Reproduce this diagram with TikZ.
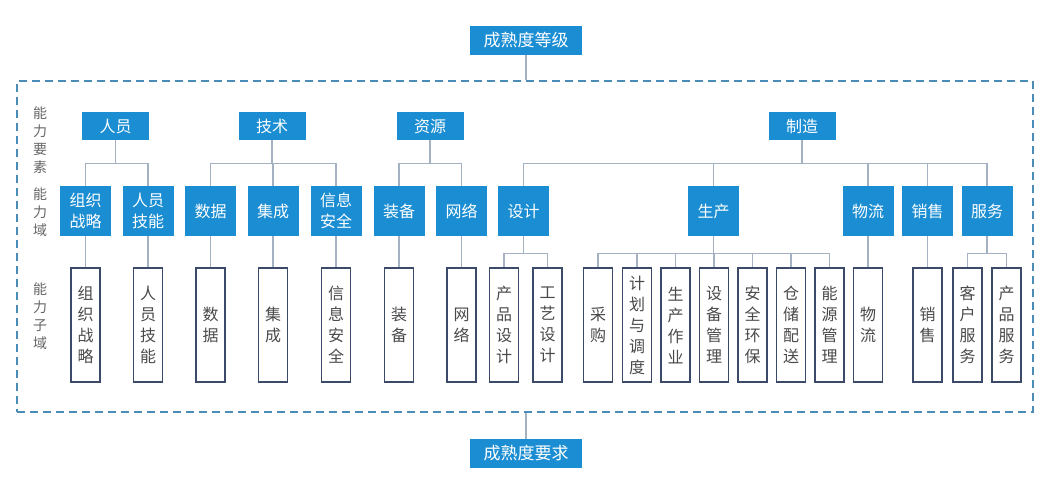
\documentclass[tikz,border=0pt]{standalone}
\usepackage{fontspec}
\usepackage{tikz}
\newfontfamily\cjk{Noto Sans CJK SC}
\definecolor{BoxBlue}{HTML}{1A8DD3}
\definecolor{LinkGray}{HTML}{A3B1C2}
\definecolor{SubNavy}{HTML}{3B4A68}
\definecolor{TextGray}{HTML}{4A4A4A}
\definecolor{LabelGray}{HTML}{666666}
\definecolor{FrameBlue}{HTML}{4A8DB8}

\begin{document}
\begin{tikzpicture}[x=1pt, y=-1pt,
  gradebox/.style={fill=BoxBlue, text=white, minimum width=112pt, minimum height=29pt,
                   inner sep=0pt, font=\cjk\fontsize{17}{20}\selectfont},
  elembox/.style={fill=BoxBlue, text=white, minimum width=67pt, minimum height=28pt,
                  inner sep=0pt, font=\cjk\fontsize{16}{21}\selectfont},
  dombox/.style={fill=BoxBlue, text=white, minimum width=51pt, minimum height=50pt,
                 inner sep=0pt, align=center, font=\cjk\fontsize{16}{21}\selectfont},
  subbox/.style={draw=SubNavy, line width=1.3pt, fill=white, text=TextGray,
                 minimum width=29pt, minimum height=114pt, inner sep=0pt,
                 align=center, font=\cjk\fontsize{16}{21}\selectfont},
  sidelabel/.style={text=LabelGray, align=center, inner sep=0pt,
                    font=\cjk\fontsize{14}{18}\selectfont},
  link/.style={draw=LinkGray, line width=1.2pt}
]
\useasboundingbox (0,0) rectangle (1045,498);

% ── FRAME & GRADES ────────────────────────────────────────────────────────────
\node[draw=FrameBlue, line width=1.5pt, dash pattern=on 8pt off 5pt,
      minimum width=1016pt, minimum height=331pt, inner sep=0pt] (frame) at (525,246.5) {};

\node[gradebox] (grade) at (526,40)    {成熟度等级};
\node[gradebox] (req)   at (526,453.5) {成熟度要求};

\draw[link] (grade.south) -- (grade.south |- frame.north);
\draw[link] (req.north)   -- (req.north |- frame.south);

% row labels
\node[sidelabel] (lbys) at (40,140) {能\\力\\要\\素};
\node[sidelabel] (lbyu) at (40,212) {能\\力\\域};
\node[sidelabel] (lbzy) at (40,316) {能\\力\\子\\域};

% ── ELEMENTS ──────────────────────────────────────────────────────────────────
\node[elembox] (ry) at (115.5,126) {人员};
\node[elembox] (js) at (272,126)   {技术};
\node[elembox] (zy) at (430,126)   {资源};
\node[elembox] (zz) at (802,126)   {制造};

% ── DOMAINS ───────────────────────────────────────────────────────────────────
\node[dombox] (zzzl) at (85.5,211)  {组织\\战略};
\node[dombox] (ryjn) at (148,211)   {人员\\技能};
\node[dombox] (sj)   at (210.5,211) {数据};
\node[dombox] (jc)   at (273,211)   {集成};
\node[dombox] (xxaq) at (336,211)   {信息\\安全};
\node[dombox] (zb)   at (399,211)   {装备};
\node[dombox] (wl)   at (461.5,211) {网络};
\node[dombox] (shj)  at (523.5,211) {设计};
\node[dombox] (sc)   at (713.5,211) {生产};
\node[dombox] (wls)  at (868,211)   {物流};
\node[dombox] (xs)   at (927.5,211) {销售};
\node[dombox] (fw)   at (987,211)   {服务};

\draw[link] (ry.south) -- ++(0,23) -| (zzzl.north);
\draw[link] (ry.south) -- ++(0,23) -| (ryjn.north);
\draw[link] (js.south) -- ++(0,23) -| (sj.north);
\draw[link] (js.south) -- ++(0,23) -| (jc.north);
\draw[link] (js.south) -- ++(0,23) -| (xxaq.north);
\draw[link] (zy.south) -- ++(0,23) -| (zb.north);
\draw[link] (zy.south) -- ++(0,23) -| (wl.north);
\draw[link] (zz.south) -- ++(0,23) -| (shj.north);
\draw[link] (zz.south) -- ++(0,23) -| (sc.north);
\draw[link] (zz.south) -- ++(0,23) -| (wls.north);
\draw[link] (zz.south) -- ++(0,23) -| (xs.north);
\draw[link] (zz.south) -- ++(0,23) -| (fw.north);

% ── SUB-DOMAINS ───────────────────────────────────────────────────────────────
\node[subbox] (zzzl-s) at (85.5,325)  {组\\织\\战\\略};
\node[subbox] (ryjn-s) at (148,325)   {人\\员\\技\\能};
\node[subbox] (sj-s)   at (210.5,325) {数\\据};
\node[subbox] (jc-s)   at (273,325)   {集\\成};
\node[subbox] (xxaq-s) at (336,325)   {信\\息\\安\\全};
\node[subbox] (zb-s)   at (399,325)   {装\\备};
\node[subbox] (wl-s)   at (461.5,325) {网\\络};
\node[subbox] (cpsj)   at (504,325)   {产\\品\\设\\计};
\node[subbox] (gysj)   at (547.5,325) {工\\艺\\设\\计};
\node[subbox] (cg)     at (598,325)   {采\\购};
\node[subbox] (jhdd)   at (637,325)   {计\\划\\与\\调\\度};
\node[subbox] (sczy)   at (675.5,325) {生\\产\\作\\业};
\node[subbox] (sbgl)   at (714,325)   {设\\备\\管\\理};
\node[subbox] (aqhb)   at (752.5,325) {安\\全\\环\\保};
\node[subbox] (ccps)   at (791,325)   {仓\\储\\配\\送};
\node[subbox] (nygl)   at (829.5,325) {能\\源\\管\\理};
\node[subbox] (wls-s)  at (868,325)   {物\\流};
\node[subbox] (xs-s)   at (927.5,325) {销\\售};
\node[subbox] (khfw)   at (967.5,325) {客\\户\\服\\务};
\node[subbox] (cpfw)   at (1006.5,325){产\\品\\服\\务};

\draw[link] (zzzl.south) -- (zzzl-s.north);
\draw[link] (ryjn.south) -- (ryjn-s.north);
\draw[link] (sj.south)   -- (sj-s.north);
\draw[link] (jc.south)   -- (jc-s.north);
\draw[link] (xxaq.south) -- (xxaq-s.north);
\draw[link] (zb.south)   -- (zb-s.north);
\draw[link] (wl.south)   -- (wl-s.north);
\draw[link] (wls.south)  -- (wls-s.north);
\draw[link] (xs.south)   -- (xs-s.north);

\draw[link] (shj.south) -- ++(0,17) -| (cpsj.north);
\draw[link] (shj.south) -- ++(0,17) -| (gysj.north);
\draw[link] (sc.south)  -- ++(0,17) -| (cg.north);
\draw[link] (sc.south)  -- ++(0,17) -| (jhdd.north);
\draw[link] (sc.south)  -- ++(0,17) -| (sczy.north);
\draw[link] (sc.south)  -- ++(0,17) -| (sbgl.north);
\draw[link] (sc.south)  -- ++(0,17) -| (aqhb.north);
\draw[link] (sc.south)  -- ++(0,17) -| (ccps.north);
\draw[link] (sc.south)  -- ++(0,17) -| (nygl.north);
\draw[link] (fw.south)  -- ++(0,17) -| (khfw.north);
\draw[link] (fw.south)  -- ++(0,17) -| (cpfw.north);

\end{tikzpicture}
\end{document}
